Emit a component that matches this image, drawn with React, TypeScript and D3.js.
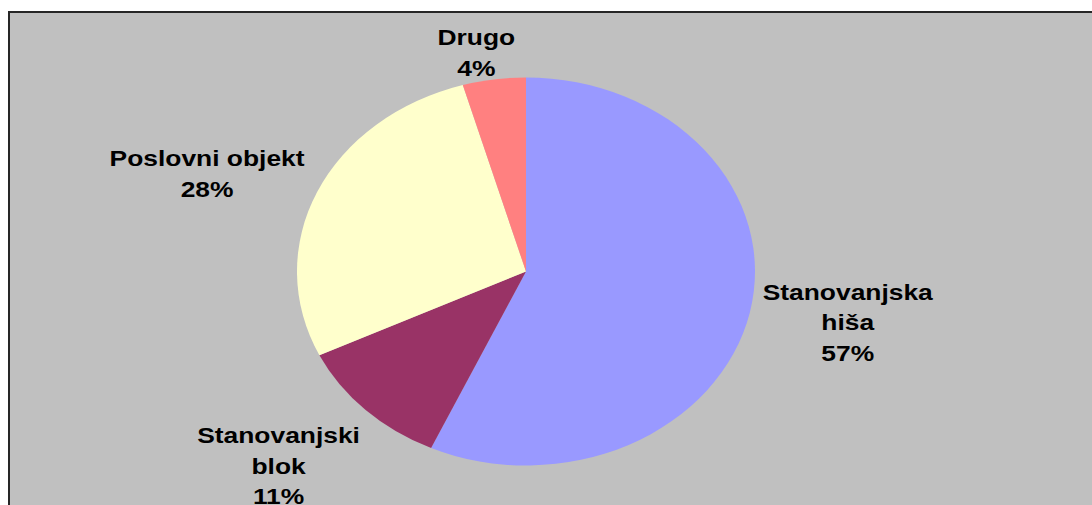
import React from "react";
import * as d3 from "d3";

const categories = ["Stanovanjska hiša", "Stanovanjski blok", "Poslovni objekt", "Drugo"];
const labelLines = [["Stanovanjska", "hiša"], ["Stanovanjski", "blok"], ["Poslovni objekt"], ["Drugo"]];
const values = [56.8, 11.1, 27.65, 4.45];
const colors = ["#9999FF", "#993366", "#FFFFCC", "#FF8080"];

// layout
const W = 1092;
const H = 505;
const cx = 526;
const cy = 271.5;
const rx = 229;
const ry = 194;
const fontSize = 22;
const scaleX = 1.2;
const lineH = 30.5;
const capH = 16;
const gap = 10;
const labelNudge: [number, number][] = [[5, -2], [-23, 16], [-12, -2], [-11, 13]];

function measure(text: string): number {
  const c = document.createElement("canvas").getContext("2d");
  if (!c) return text.length * fontSize * 0.6;
  c.font = `bold ${fontSize}px "Liberation Sans", Arial, sans-serif`;
  return c.measureText(text).width * scaleX;
}

export default function App() {
  const total = d3.sum(values);
  const pie = d3.pie<number>().sort(null).value((d) => d);
  const arcs = pie(values);
  const arc = d3.arc<d3.PieArcDatum<number>>().innerRadius(0).outerRadius(ry);

  return (
    <div style={{ position: "absolute", left: 0, top: 0 }}>
      <svg width={W} height={H} style={{ display: "block" }}>
        <rect x={0} y={0} width={W} height={H} fill="#ffffff" />
        <rect x={9} y={12} width={W + 50} height={H + 50} fill="#C0C0C0" stroke="#262626" strokeWidth={2} />
        <g transform={`translate(${cx},${cy}) scale(${rx / ry},1)`}>
          {arcs.map((a, i) => (
            <path key={categories[i]} d={arc(a) || ""} fill={colors[i]} stroke="none" />
          ))}
        </g>
        {arcs.map((a, i) => {
          const lines = [...labelLines[i], `${Math.round((values[i] / total) * 100)}%`];
          const w = Math.max(...lines.map(measure));
          const h = lines.length * lineH;
          const th = (a.startAngle + a.endAngle) / 2;
          const s = Math.sin(th);
          const c = Math.cos(th);
          const lx = cx + rx * s + s * (w / 2 + gap) + labelNudge[i][0];
          const ly = cy - ry * c - c * (h / 2 + gap) + labelNudge[i][1];
          return (
            <g key={"l" + i}>
              {lines.map((t, j) => (
                <text
                  key={j}
                  transform={`translate(${lx},${ly + (j - (lines.length - 1) / 2) * lineH + capH / 2}) scale(${scaleX},1)`}
                  textAnchor="middle"
                  fontFamily='"Liberation Sans", Arial, sans-serif'
                  fontWeight="bold"
                  fontSize={fontSize}
                  fill="#000"
                >
                  {t}
                </text>
              ))}
            </g>
          );
        })}
      </svg>
    </div>
  );
}
